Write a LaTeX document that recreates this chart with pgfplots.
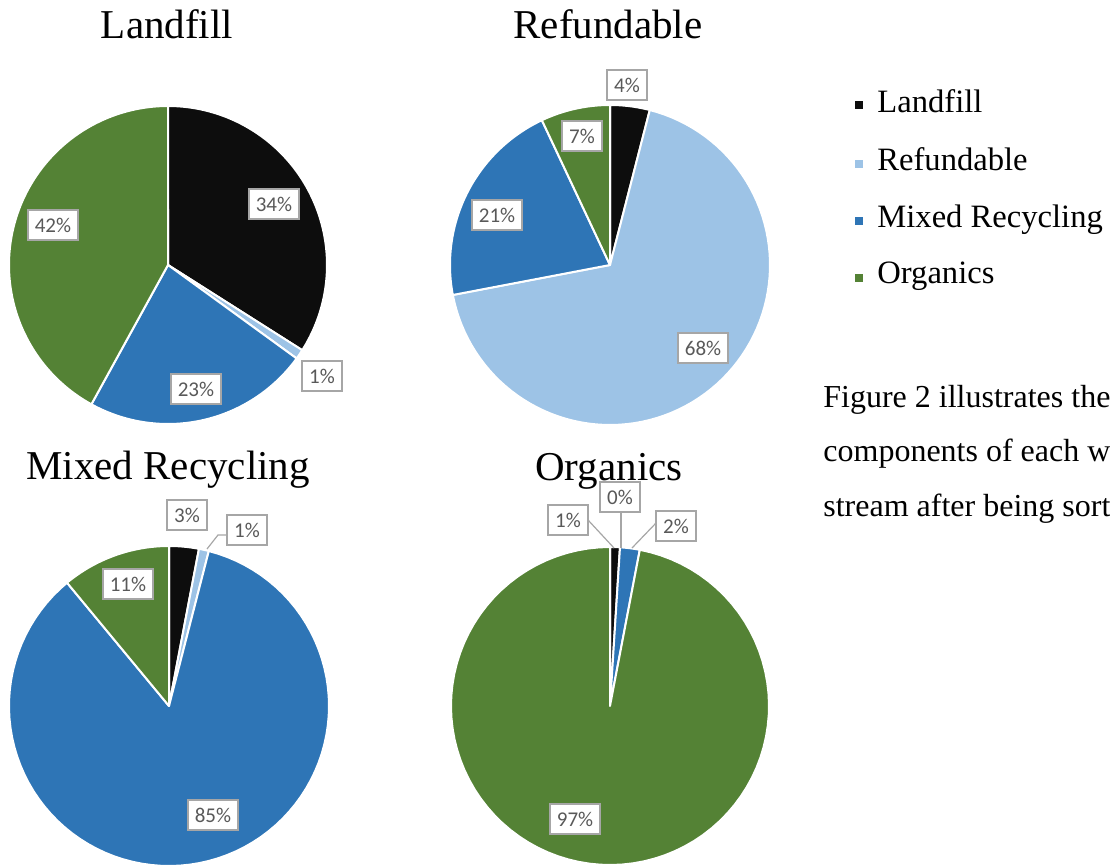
\documentclass[border=0pt]{standalone}
\usepackage{fontspec}
\setmainfont{Liberation Serif}
\newfontfamily\calibri{Carlito}
\usepackage{pgfplots}
\pgfplotsset{compat=1.18}

\definecolor{cLand}{HTML}{0D0D0D}
\definecolor{cRef}{HTML}{9DC3E6}
\definecolor{cMix}{HTML}{2E75B6}
\definecolor{cOrg}{HTML}{548235}
\definecolor{lblbox}{HTML}{A6A6A6}
\definecolor{lbltext}{HTML}{595959}

% one pie slice: centre x, centre y, radius (px), cumulative % at start, at end, colour
% Excel order: starts at 12 o'clock and runs clockwise
\newcommand{\slice}[6]{%
  \addplot[fill=#6, draw=white, line width=1pt, line join=round,
    domain=90-3.6*#5:90-3.6*#4, samples=90, variable=\t]
    ({#1+#3*cos(\t)}, {#2-#3*sin(\t)}) -- (axis cs:#1,#2) -- cycle;
}
% data label box
\newcommand{\lbl}[3]{\node[pctlbl] at (axis cs:#1,#2) {#3\%};}

\tikzset{
  pctlbl/.style={draw=lblbox, line width=1pt, fill=white, text=lbltext,
    font=\calibri\fontsize{10.5}{12}\selectfont,
    inner xsep=3.5pt, inner ysep=0pt, minimum height=15pt},
  pietitle/.style={anchor=base, inner sep=0pt, font=\fontsize{20.5}{24}\selectfont},
  legtext/.style={anchor=base west, inner sep=0pt, font=\fontsize{16.3}{19}\selectfont},
  bodytext/.style={anchor=base west, inner sep=0pt, font=\fontsize{16}{19}\selectfont},
}

\begin{document}
\begin{tikzpicture}
\begin{axis}[
    width=555pt, height=432.5pt, scale only axis,
    xmin=0, xmax=1110, ymin=0, ymax=865, y dir=reverse,
    hide axis, clip=false,
]
\coordinate (bl) at (axis cs:0,865);
\coordinate (tr) at (axis cs:1110,0);

% Landfill stream: 34 / 1 / 23 / 42
\slice{168}{265}{159}{0}{34}{cLand}
\slice{168}{265}{159}{34}{35}{cRef}
\slice{168}{265}{159}{35}{58}{cMix}
\slice{168}{265}{159}{58}{100}{cOrg}

% Refundable stream: 4 / 68 / 21 / 7
\slice{610}{265}{160}{0}{4}{cLand}
\slice{610}{265}{160}{4}{72}{cRef}
\slice{610}{265}{160}{72}{93}{cMix}
\slice{610}{265}{160}{93}{100}{cOrg}

% Mixed Recycling stream: 3 / 1 / 85 / 11
\slice{169}{706}{160}{0}{3}{cLand}
\slice{169}{706}{160}{3}{4}{cRef}
\slice{169}{706}{160}{4}{89}{cMix}
\slice{169}{706}{160}{89}{100}{cOrg}

% Organics stream: 1 / 0 / 2 / 97
\slice{610}{706}{159}{0}{1}{cLand}
\slice{610}{706}{159}{1}{3}{cMix}
\slice{610}{706}{159}{3}{100}{cOrg}

% leader lines
\addplot[lblbox, line width=0.6pt] coordinates {(228,535) (218,535) (207,549)};
\addplot[lblbox, line width=0.6pt] coordinates {(588,520) (614,548)};
\addplot[lblbox, line width=0.6pt] coordinates {(621,508) (621,548)};
\addplot[lblbox, line width=0.6pt] coordinates {(657,522) (632,548)};

% titles
\node[pietitle] at (axis cs:167,39) {Landfill};
\node[pietitle] at (axis cs:608,39) {Refundable};
\node[pietitle] at (axis cs:168,480) {Mixed Recycling};
\node[pietitle] at (axis cs:609,481) {Organics};

% data labels
\lbl{274}{204}{34}
\lbl{322}{376}{1}
\lbl{196}{389}{23}
\lbl{53}{225}{42}

\lbl{627}{85}{4}
\lbl{582}{136}{7}
\lbl{497}{215}{21}
\lbl{703}{348}{68}

\lbl{187}{515}{3}
\lbl{247}{530}{1}
\lbl{128}{584}{11}
\lbl{213}{815}{85}

\lbl{568}{520}{1}
\lbl{620}{497}{0}
\lbl{676}{526}{2}
\lbl{575}{819}{97}

% legend
\addplot[only marks, mark=square*, mark size=1.8pt, color=cLand] coordinates {(859,105)};
\addplot[only marks, mark=square*, mark size=1.8pt, color=cRef] coordinates {(859,164)};
\addplot[only marks, mark=square*, mark size=1.8pt, color=cMix] coordinates {(859,221)};
\addplot[only marks, mark=square*, mark size=1.8pt, color=cOrg] coordinates {(859,278)};
\node[legtext] at (axis cs:877,113) {Landfill};
\node[legtext] at (axis cs:877,171) {Refundable};
\node[legtext] at (axis cs:877,228) {Mixed Recycling};
\node[legtext] at (axis cs:877,284) {Organics};

% running text beside the figure (cut off at the right edge, as in the source)
\node[bodytext] at (axis cs:823,408) {Figure 2 illustrates the};
\node[bodytext] at (axis cs:823,462) {components of each w};
\node[bodytext] at (axis cs:823,517) {stream after being sort};
\end{axis}
\pgfresetboundingbox
\path (bl) rectangle (tr);
\end{tikzpicture}
\end{document}
